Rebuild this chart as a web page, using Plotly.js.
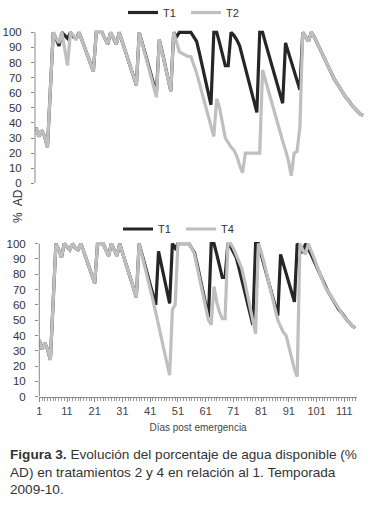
<!DOCTYPE html>
<html>
<head>
<meta charset="utf-8">
<script src="https://cdn.plot.ly/plotly-3.0.1.min.js"></script>
<style>
html,body{margin:0;padding:0;background:#fff;}
#chart{width:375px;height:513px;}
</style>
</head>
<body>
<div id="chart"></div>
<script>
// Días post emergencia
var days = [1,2,3,4,5,6,7,8,9,10,11,12,13,14,15,16,17,18,19,20,
21,22,23,24,25,26,27,28,29,30,31,32,33,34,35,36,37,38,39,40,
41,42,43,44,45,46,47,48,49,50,51,52,53,54,55,56,57,58,59,60,
61,62,63,64,65,66,67,68,69,70,71,72,73,74,75,76,77,78,79,80,
81,82,83,84,85,86,87,88,89,90,91,92,93,94,95,96,97,98,99,100,
101,102,103,104,105,106,107,108,109,110,111,112,113,114,115];

// % AD, tratamiento 1
var t1 = [37,31,35,31,24,62,100,96,91,100,98,96,100,97,96,100,95,90,85,79,
74,100,100,100,96,92,100,96,92,100,94,88,82,76,70,65,100,93,86,79,
72,66,60,95,87,79,71,61,100,97,100,100,100,100,100,97,94,86,78,69,
61,52,100,100,93,86,78,78,100,98,95,91,84,77,69,62,55,47,100,100,
93,86,79,72,66,59,53,93,87,80,74,68,62,100,97,94,100,97,93,89,
85,80,76,72,69,66,63,60,57,55,52,50,48,46,45];

// % AD, tratamiento 2
var t2 = [37,31,35,31,24,62,100,96,93,100,88,78,100,98,95,100,95,90,85,79,
74,100,100,100,96,92,100,96,92,100,94,88,82,76,70,65,100,93,86,79,
72,66,57,95,87,79,71,61,100,93,87,86,85,84,84,79,73,66,59,52,
45,38,31,56,50,40,30,27,24,22,18,12,7,20,20,20,20,20,20,75,
68,62,55,48,42,35,28,22,15,5,20,21,37,100,97,94,100,97,93,89,
85,80,76,72,69,66,63,60,57,55,52,50,48,46,45];

// % AD, tratamiento 4
var t4 = [37,31,35,31,24,62,100,96,91,100,98,96,100,97,96,100,95,90,85,79,
74,100,100,100,96,92,100,96,92,100,94,88,82,76,70,65,100,93,85,77,
70,63,55,47,39,31,23,14,57,60,100,100,100,100,100,97,93,84,75,66,
57,50,47,72,62,55,51,51,100,100,97,93,89,84,76,67,58,49,41,100,
95,88,80,72,64,56,50,46,42,40,32,25,18,13,100,96,93,100,96,91,
86,81,76,72,69,66,63,60,57,55,52,50,48,46,45];

var yTicks = [0,10,20,30,40,50,60,70,80,90,100];
var xTicks = [1,11,21,31,41,51,61,71,81,91,101,111];

var W = 375, H = 513;
function px(x){return x/W;}
function py(y){return 1 - y/H;}

var FONT = "Liberation Sans Narrow, Arial Narrow, Liberation Sans, Arial, sans-serif";
var DARK = '#262626', GREY = '#bfbfbf', TXT = '#333333';

var traces = [
  {x: days, y: t1, name: 'T1', type: 'scatter', mode: 'lines', xaxis: 'x', yaxis: 'y',
   line: {color: DARK, width: 3.2}, legend: 'legend'},
  {x: days, y: t2, name: 'T2', type: 'scatter', mode: 'lines', xaxis: 'x', yaxis: 'y',
   line: {color: GREY, width: 3.2}, legend: 'legend'},
  {x: days, y: t1, name: 'T1', type: 'scatter', mode: 'lines', xaxis: 'x2', yaxis: 'y2',
   line: {color: DARK, width: 3.2}, legend: 'legend2'},
  {x: days, y: t4, name: 'T4', type: 'scatter', mode: 'lines', xaxis: 'x2', yaxis: 'y2',
   line: {color: GREY, width: 3.2}, legend: 'legend2'}
];

var tickFont = {family: FONT, size: 11.5, color: TXT};

var layout = {
  width: W, height: H,
  margin: {l: 0, r: 0, t: 0, b: 0, autoexpand: false},
  paper_bgcolor: '#fff', plot_bgcolor: '#fff',
  font: {family: FONT, color: TXT},
  xaxis: {domain: [px(35), px(364.4)], range: [0.65, 115.5], anchor: 'y',
    showline: false, showgrid: false, zeroline: false, showticklabels: false, ticks: ''},
  yaxis: {domain: [py(183.3), py(29.3)], range: [0, 102], anchor: 'x',
    tickvals: yTicks, ticktext: yTicks.map(String), ticks: 'outside', ticklen: 3,
    tickcolor: '#888', showline: false, showgrid: false, zeroline: false,
    tickfont: tickFont, ticklabelstandoff: 7},
  xaxis2: {domain: [px(39), px(357.1)], range: [0.9, 115.6], anchor: 'y2',
    tickvals: xTicks, ticktext: xTicks.map(String), ticks: 'outside', ticklen: 4,
    tickcolor: '#888', showline: true, linecolor: '#888', linewidth: 1,
    showgrid: false, zeroline: false, tickfont: {family: FONT, size: 11, color: '#444'},
    minor: {dtick: 1, tick0: 1, ticks: 'outside', ticklen: 3, tickcolor: '#999', showgrid: false},
    title: {text: 'Días post emergencia', font: {family: FONT, size: 10, color: '#444'}, standoff: 8}},
  yaxis2: {domain: [py(396.7), py(240.6)], range: [0, 102], anchor: 'x2',
    tickvals: yTicks, ticktext: yTicks.map(String), ticks: 'outside', ticklen: 3,
    tickcolor: '#888', showline: false, showgrid: false, zeroline: false,
    tickfont: tickFont, ticklabelstandoff: 7},
  legend: {orientation: 'h', x: px(123), y: py(12.5), xanchor: 'left', yanchor: 'middle',
    font: {family: FONT, size: 11, color: TXT}, bgcolor: 'rgba(0,0,0,0)', entrywidth: 18, itemwidth: 30,
    tracegroupgap: 0},
  legend2: {orientation: 'h', x: px(118), y: py(229), xanchor: 'left', yanchor: 'middle',
    font: {family: FONT, size: 11, color: TXT}, bgcolor: 'rgba(0,0,0,0)', entrywidth: 18, itemwidth: 30,
    tracegroupgap: 0},
  shapes: [
    {type: 'line', xref: 'paper', yref: 'y', x0: px(35), x1: px(35), y0: 0, y1: 100,
     line: {color: '#888', width: 1}},
    {type: 'line', xref: 'paper', yref: 'y2', x0: px(39.3), x1: px(39.3), y0: 0, y1: 100,
     line: {color: '#888', width: 1}}
  ],
  annotations: [
    {text: '%  AD', xref: 'paper', yref: 'paper', x: px(18), y: py(206), textangle: -90,
     showarrow: false, font: {family: FONT, size: 12, color: TXT}, xanchor: 'center', yanchor: 'middle'},
    {text: '<b>Figura 3.</b> Evolución del porcentaje de agua disponible (%<br>AD) en tratamientos 2 y 4 en relación al 1. Temporada<br>2009-10.',
     xref: 'paper', yref: 'paper', x: px(8), y: py(445), xanchor: 'left', yanchor: 'top', align: 'left',
     showarrow: false, font: {family: FONT, size: 13.6, color: TXT}}
  ]
};

Plotly.newPlot('chart', traces, layout, {displayModeBar: false, staticPlot: true});
</script>
</body>
</html>
